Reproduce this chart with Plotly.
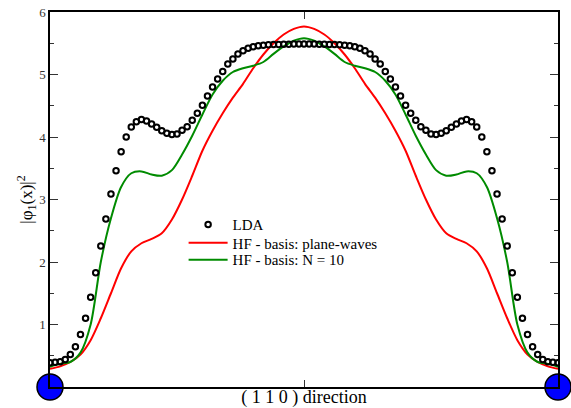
import numpy as np
import plotly.graph_objects as go

# LDA points (101 points over the (1 1 0) direction, x in [-1, 1])
lda_x = list(np.round(np.linspace(-1, 1, 101), 4))
lda_y = [0.39, 0.395, 0.405, 0.44, 0.52, 0.645, 0.84, 1.10, 1.435, 1.83,
         2.256, 2.69, 3.09, 3.46, 3.765, 4.0, 4.16, 4.245, 4.28, 4.255,
         4.21, 4.155, 4.10, 4.06, 4.04, 4.05, 4.11, 4.165, 4.27, 4.38,
         4.51, 4.655, 4.80, 4.93, 5.05, 5.17, 5.25, 5.33, 5.38, 5.42,
         5.445, 5.46, 5.47, 5.475, 5.48, 5.48, 5.485, 5.485, 5.49, 5.49,
         5.49,
         5.49, 5.49, 5.485, 5.485, 5.48, 5.48, 5.475, 5.47, 5.46, 5.445,
         5.42, 5.38, 5.33, 5.25, 5.17, 5.05, 4.93, 4.80, 4.655, 4.51,
         4.38, 4.27, 4.165, 4.11, 4.05, 4.04, 4.06, 4.10, 4.155, 4.21,
         4.255, 4.28, 4.245, 4.16, 4.0, 3.765, 3.46, 3.09, 2.69, 2.256,
         1.83, 1.435, 1.10, 0.84, 0.645, 0.52, 0.44, 0.405, 0.395, 0.39]

# HF curves sampled at step 0.04
hf_x = list(np.round(np.linspace(-1, 1, 51), 4))
hf_pw = [0.29, 0.33, 0.40, 0.52, 0.75, 1.10, 1.50, 1.90, 2.17, 2.30,
         2.37, 2.46, 2.68, 3.00, 3.38, 3.78, 4.10, 4.38, 4.63, 4.85,
         5.10, 5.32, 5.50, 5.64, 5.73, 5.77,
         5.73, 5.64, 5.50, 5.32, 5.10, 4.85, 4.63, 4.38, 4.10, 3.78,
         3.38, 3.00, 2.68, 2.46, 2.37, 2.30, 2.17, 1.90, 1.50, 1.10,
         0.75, 0.52, 0.40, 0.33, 0.29]
hf_n10 = [0.325, 0.37, 0.40, 0.55, 1.00, 2.00, 2.70, 3.20, 3.42, 3.45,
          3.40, 3.38, 3.47, 3.72, 4.02, 4.36, 4.68, 4.90, 5.04, 5.10,
          5.14, 5.20, 5.33, 5.45, 5.54, 5.58,
          5.54, 5.45, 5.33, 5.20, 5.14, 5.10, 5.04, 4.90, 4.68, 4.36,
          4.02, 3.72, 3.47, 3.38, 3.40, 3.45, 3.42, 3.20, 2.70, 2.00,
          1.00, 0.55, 0.40, 0.37, 0.325]

# atom positions
atom_x = [-1, 1]
atom_y = [0, 0]

FONT = "Liberation Serif, Times New Roman, Times, serif"

fig = go.Figure()
fig.add_trace(go.Scatter(
    x=hf_x, y=hf_pw, mode="lines", name="HF - basis: plane-waves", legend="legend2",
    line=dict(color="#ff0000", width=2, shape="spline", smoothing=0.8)))
fig.add_trace(go.Scatter(
    x=hf_x, y=hf_n10, mode="lines", name="HF - basis: N = 10", legend="legend3",
    line=dict(color="#008b00", width=2, shape="spline", smoothing=0.8)))
fig.add_trace(go.Scatter(
    x=lda_x, y=lda_y, mode="markers", name="LDA", legend="legend",
    marker=dict(symbol="circle-open", size=5.5, color="black",
                line=dict(width=2, color="black"))))
fig.add_trace(go.Scatter(
    x=atom_x, y=atom_y, mode="markers", showlegend=False, cliponaxis=False,
    marker=dict(symbol="circle", size=26, color="#0000ff",
                line=dict(width=1.5, color="black"))))

leg_common = dict(xanchor="left", yanchor="top", bgcolor="rgba(0,0,0,0)",
                  font=dict(family=FONT, size=15), itemwidth=39, x=0.263)

fig.update_layout(
    width=571, height=408,
    margin=dict(l=50, r=13, t=12, b=21),
    paper_bgcolor="white", plot_bgcolor="white",
    font=dict(family=FONT, size=13, color="black"),
    showlegend=True,
    legend=dict(y=0.477, **leg_common),
    legend2=dict(y=0.428, **leg_common),
    legend3=dict(y=0.383, **leg_common),
    xaxis=dict(range=[-1, 1], showgrid=False, zeroline=False, automargin=False,
               showline=True, linecolor="black", linewidth=1.5, mirror="allticks",
               ticks="inside", ticklen=7, tickwidth=1, tickcolor="#333",
               tickvals=[0], ticktext=[""],
               title=dict(text="( 1 1 0 ) direction", standoff=8,
                          font=dict(family=FONT, size=18))),
    yaxis=dict(range=[0, 6], showgrid=False, zeroline=False, automargin=False,
               showline=True, linecolor="black", linewidth=1.5, mirror="allticks",
               ticks="inside", ticklen=8, tickwidth=1, tickcolor="#333",
               tickvals=[0, 1, 2, 3, 4, 5, 6],
               ticktext=["", "1", "2", "3", "4", "5", "6"],
               tickfont=dict(family=FONT, size=13, color="#333"),
               minor=dict(dtick=0.5, ticks="inside", ticklen=4, tickcolor="#333"),
               title=dict(text="|φ<sub>1</sub>(x)|<sup>2</sup>", standoff=2,
                          font=dict(family=FONT, size=17))),
)

fig.write_html("out.html")
